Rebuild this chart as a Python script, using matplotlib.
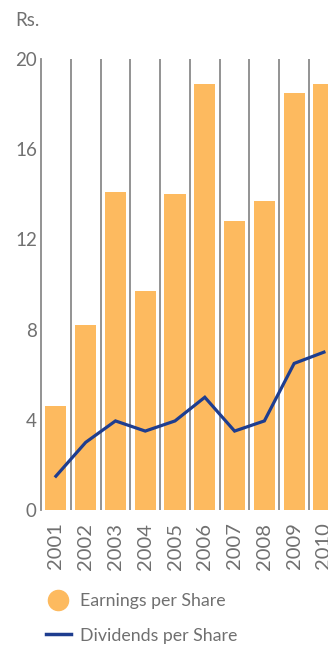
import matplotlib
matplotlib.use("Agg")
import matplotlib.pyplot as plt
from matplotlib.lines import Line2D

years = ["2001", "2002", "2003", "2004", "2005", "2006", "2007", "2008", "2009", "2010"]
eps = [4.6, 8.2, 14.1, 9.7, 14.0, 18.9, 12.8, 13.7, 18.5, 18.9]
dps = [1.5, 3.0, 3.95, 3.5, 3.95, 5.0, 3.5, 3.95, 6.5, 7.0]
yticks = [0, 4, 8, 12, 16, 20]

BAR = "#FDBA5F"
LINE = "#1E3D8F"
TXT = "#707070"
GRID = "#8a8a8a"
FONT = ["Lato", "DejaVu Sans"]

plt.rcParams['font.family'] = FONT

fig = plt.figure(figsize=(3.28, 6.46), dpi=100)
ax = fig.add_axes([0.125, 1 - 510 / 646, 1.033 - 0.125, (510 - 59) / 646])

x = list(range(len(years)))
ax.bar(x, eps, width=0.71, color=BAR, zorder=2)
ax.plot(x, dps, color=LINE, lw=2.3, zorder=3, solid_joinstyle='miter')

for b in [i + 0.5 for i in range(len(years) - 1)]:
    ax.axvline(b, color=GRID, lw=1.3, zorder=1)

ax.set_xlim(-0.5, 9.5)
ax.set_ylim(0, 20)
for s in ["top", "right", "bottom"]:
    ax.spines[s].set_visible(False)
ax.spines["left"].set_color(GRID)
ax.spines["left"].set_linewidth(1.3)

ax.set_yticks(yticks)
ax.set_yticklabels([str(v) for v in yticks], color=TXT, fontsize=13.5)
ax.tick_params(axis='y', length=0, pad=3)
ax.set_xticks(x)
ax.set_xticklabels(years, rotation=90, color=TXT, fontsize=14.5)
ax.tick_params(axis='x', length=0, pad=9)

fig.text(0.045, 1 - 20 / 646, "Rs.", color=TXT, fontsize=13.5, va='center', ha='left')

handles = [
    Line2D([], [], marker='o', color=BAR, linestyle='none', markersize=14.5),
    Line2D([], [], color=LINE, lw=2.5),
]
leg = fig.legend(handles, ["Earnings per Share", "Dividends per Share"],
                 loc='upper left', bbox_to_anchor=(0.14, 1 - 593 / 646),
                 frameon=False, fontsize=12.8, labelcolor=TXT,
                 handlelength=1.4, handletextpad=0.5, labelspacing=1.05,
                 borderaxespad=0, borderpad=0)

fig.savefig("out.png", dpi=100)
